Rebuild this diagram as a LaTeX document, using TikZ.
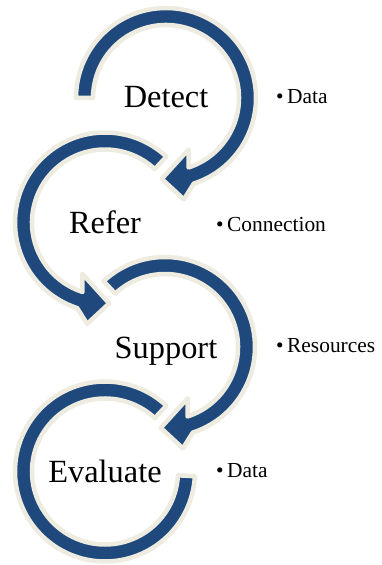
\documentclass[tikz,border=0pt]{standalone}
\usepackage{amsmath}
\usepackage{fontspec}
\setmainfont{Liberation Serif}
\usepackage{tikz}

\definecolor{arrowblue}{RGB}{31,73,125}
\definecolor{tanline}{RGB}{238,236,225}

\begin{document}
\begin{tikzpicture}[x=1bp, y=1bp,
        band/.style={fill=arrowblue, draw=tanline, line width=4.5bp, line join=round},
        title/.style={anchor=base, inner sep=0pt, font=\fontsize{32.5}{38}\selectfont},
        item/.style={anchor=base west, inner sep=0pt, font=\fontsize{21.5}{26}\selectfont}]
        \useasboundingbox (0,0) rectangle (381,565);

        % Detect oku
        \begin{scope}[shift={(166,467)}]
        \draw[band] (180:90) arc[start angle=180, end angle=-72, radius=90] -- (-80:103) -- (-93:81) -- (-66:56) -- (-72:73) arc[start angle=-72, end angle=180, radius=73] -- cycle;
        \end{scope}

        % Refer oku
        \begin{scope}[shift={(105,342.5)}]
        \draw[band] (47:90) arc[start angle=47, end angle=252, radius=90] -- (260:103) -- (273:81) -- (246:56) -- (252:73) arc[start angle=252, end angle=47, radius=73] -- cycle;
        \end{scope}

        % Support oku
        \begin{scope}[shift={(165,218)}]
        \draw[band] (133:90) arc[start angle=133, end angle=-72, radius=90] -- (-80:103) -- (-93:81) -- (-66:56) -- (-72:73) arc[start angle=-72, end angle=133, radius=73] -- cycle;
        \end{scope}

        % Evaluate halkasi
        \begin{scope}[shift={(105,93.5)}]
        \draw[band] (47:90) arc[start angle=47, end angle=357, radius=90] -- (357:73) arc[start angle=357, end angle=47, radius=73] -- cycle;
        \end{scope}

        % Basliklar
        \node[title] (detect) at (166,457) {Detect};
        \node[title] (refer) at (105,331) {Refer};
        \node[title] (support) at (166,206) {Support};
        \node[title] (evaluate) at (105,82) {Evaluate};

        % Maddeler
        \node[item] (dataA) at (276,461) {\textbullet\hspace{3.5pt}Data};
        \node[item] (connection) at (216,333) {\textbullet\hspace{3.5pt}Connection};
        \node[item] (resources) at (276,212) {\textbullet\hspace{3.5pt}Resources};
        \node[item] (dataB) at (216,87) {\textbullet\hspace{3.5pt}Data};
\end{tikzpicture}
\end{document}
